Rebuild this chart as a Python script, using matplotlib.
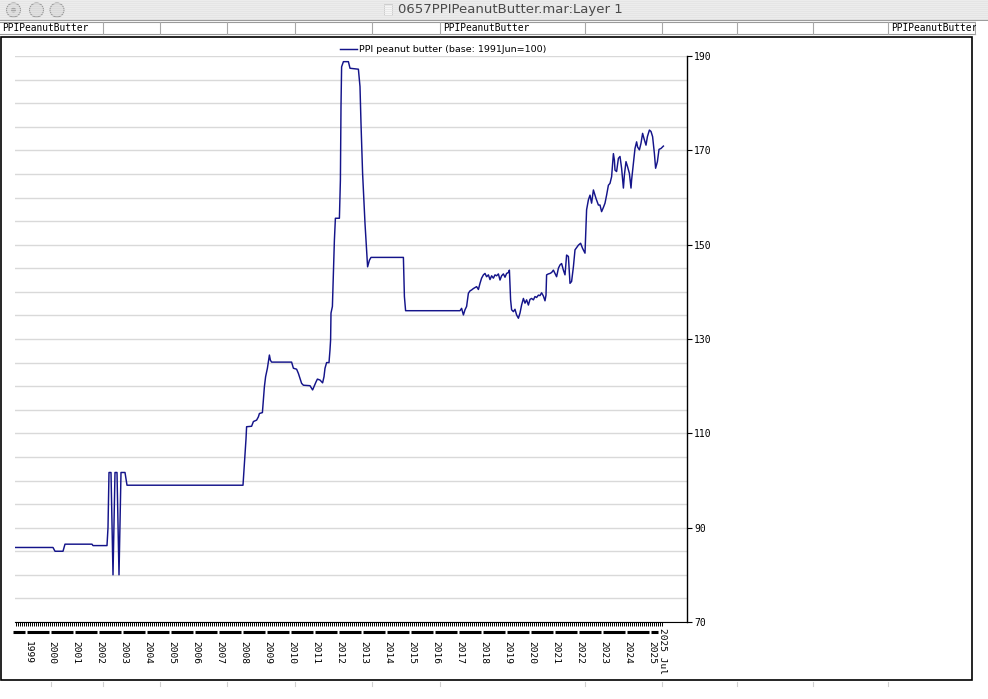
import matplotlib
matplotlib.use("Agg")
import matplotlib.pyplot as plt
from matplotlib.patches import Rectangle, Ellipse
from matplotlib.lines import Line2D
from matplotlib.transforms import blended_transform_factory

# PPI peanut butter (x = months since Jan 1999)
months = [-5.5, 13.5, 14.5, 18.5, 19.5, 33, 33.5, 40.5, 41, 41.5, 42.5, 43.5, 44.5,
          45.5, 46.5, 47.5, 49.5, 50.5, 108.5, 110, 110.3, 112.8, 113.7, 115.3, 116.2,
          116.7, 118.2, 118.7, 119.2, 119.8, 120.7, 121.2, 121.7, 122.2, 122.8, 132.8,
          133.7, 135.3, 136.2, 137.8, 138.7, 142, 143.3, 145, 145.7, 147, 148.3, 149,
          149.5, 150.3, 151.5, 152, 152.3, 152.5, 153.2, 154.2, 154.7, 156.7, 157.2,
          157.5, 157.8, 158.7, 161.2, 162, 166.2, 167, 167.5, 168.3, 169.5, 170.3,
          170.8, 171.7, 172.5, 188.7, 189.2, 189.8, 217, 217.8, 218.7, 219.5, 220.3,
          221.2, 222, 222.8, 223.7, 225.3, 226.2, 227, 227.8, 228.7, 229.5, 230.3,
          231.2, 232, 232.8, 233.7, 234.5, 235.3, 236.2, 237, 237.8, 238.7, 239.5,
          240.3, 241.2, 241.7, 242.3, 242.8, 243.7, 244.5, 245.3, 246.2, 247, 247.8,
          248.7, 249.5, 250.3, 251.2, 252, 252.8, 253.7, 254.5, 255.3, 256.2, 257,
          257.8, 258.7, 259.5, 260, 260.3, 261.2, 262, 262.8, 263.7, 264.5, 265.3,
          266.2, 267, 267.8, 268.7, 269.5, 270.3, 271.2, 272, 272.8, 273.7, 274.5,
          276.2, 277.3, 278.3, 279.5, 280, 280.3, 281.2, 282, 282.8, 283.7, 285,
          286.2, 287, 287.8, 288.7, 289.5, 290.3, 291.2, 292, 292.8, 293.3, 293.7,
          294.2, 294.5, 295.3, 296.2, 297, 297.8, 298.7, 299.2, 300, 300.8, 301.7,
          302.5, 302.8, 303.7, 304.5, 305.3, 305.8, 306.7, 307.5, 308.3, 309, 310,
          310.7, 311.7, 312.5, 313.3, 314.2, 314.8, 315.7, 316.5, 317.5, 318.7]
ppi = [85.8, 85.8, 85.0, 85.0, 86.5, 86.5, 86.2, 86.2, 90.0, 101.7, 101.7, 80.0, 101.7,
       101.7, 80.0, 101.7, 101.7, 99.0, 99.0, 108.8, 111.4, 111.5, 112.5, 112.8, 113.5,
       114.2, 114.4, 117.1, 119.9, 122.0, 123.8, 125.2, 126.6, 125.5, 125.1, 125.1,
       123.8, 123.6, 122.7, 120.6, 120.2, 120.1, 119.2, 120.9, 121.5, 121.3, 120.7, 122.0,
       123.8, 125.0, 125.0, 127.7, 129.8, 135.5, 136.9, 151.0, 155.6, 155.6, 163.7,
       179.3, 187.7, 188.8, 188.8, 187.4, 187.2, 183.5, 175.7, 165.1, 154.5, 148.9,
       145.3, 146.7, 147.3, 147.3, 139.0, 136.0, 136.0, 136.5, 135.1, 136.2, 136.9,
       139.7, 140.2, 140.4, 140.7, 141.1, 140.5, 141.8, 142.9, 143.6, 143.9, 143.2,
       143.6, 142.6, 143.4, 142.9, 143.6, 143.4, 143.8, 142.5, 143.4, 143.8, 143.1,
       143.9, 144.1, 144.6, 138.3, 136.2, 135.8, 136.3, 135.1, 134.4, 135.5, 137.2,
       138.6, 137.6, 138.3, 137.2, 138.4, 138.6, 138.3, 139.0, 138.8, 139.3, 139.2,
       139.8, 139.1, 138.1, 139.3, 143.6, 143.8, 143.9, 144.1, 144.6, 143.9, 143.2,
       145.0, 145.7, 146.0, 144.6, 143.6, 147.8, 147.5, 141.8, 142.2, 145.3, 148.9,
       149.9, 150.3, 149.2, 148.2, 153.8, 157.4, 159.5, 160.5, 158.8, 161.6, 159.8,
       158.4, 158.4, 157.0, 157.9, 158.8, 160.5, 162.6, 163.0, 164.4, 167.2, 169.3,
       167.9, 165.8, 165.5, 168.3, 168.7, 166.2, 162.0, 164.8, 167.6, 166.5, 165.1,
       162.0, 163.7, 167.2, 170.4, 171.8, 170.7, 170.1, 171.5, 173.6, 172.5, 171.1,
       172.9, 174.3, 174.0, 172.9, 169.3, 166.2, 167.6, 170.2, 170.4, 170.9]

years = list(range(1999, 2026))
last_label = "2025 Jul"
series_label = "PPI peanut butter (base: 1991Jun=100)"
window_title = "0657PPIPeanutButter.mar:Layer 1"
tab_name = "PPIPeanutButter"

W, H = 988, 699
fig = plt.figure(figsize=(W / 100, H / 100), dpi=100)
fig.patch.set_facecolor("white")


def fx(x):
    return x / W


def fy(y):
    return 1 - y / H


def rect(x0, y0, x1, y1, **kw):
    fig.patches.append(Rectangle((fx(x0), fy(y1)), fx(x1 - x0), (y1 - y0) / H,
                                 transform=fig.transFigure, **kw))


def hline(x0, x1, y, **kw):
    fig.lines.append(Line2D([fx(x0), fx(x1)], [fy(y), fy(y)], transform=fig.transFigure, **kw))


def vline(x, y0, y1, **kw):
    fig.lines.append(Line2D([fx(x), fx(x)], [fy(y0), fy(y1)], transform=fig.transFigure, **kw))


def dot(cx, cy, r, **kw):
    fig.patches.append(Ellipse((fx(cx), fy(cy)), 2 * r / W, 2 * r / H,
                               transform=fig.transFigure, **kw))


# window title bar
rect(0, 0, W, 20, facecolor="#ececec", edgecolor="none")
for yy in range(1, 20, 2):
    hline(0, W, yy, color="#e3e3e3", lw=0.5)
hline(0, W, 20, color="#9c9c9c", lw=0.8)
for cx in [13.5, 36.5, 57]:
    dot(cx, 10, 7, facecolor="#dadada", edgecolor="#9a9a9a", lw=0.8)
dot(13.5, 10, 2.5, facecolor="#a5a5a5", edgecolor="none")
rect(384, 4, 392, 15, facecolor="#f6f6f6", edgecolor="#c8c8c8", lw=0.6)
fig.text(fx(398), fy(10), window_title, ha="left", va="center", fontsize=9.5,
         color="#4a4a4a", family="DejaVu Sans")

# header row with cells
rect(0, 21, 975, 34, facecolor="white", edgecolor="none")
hline(0, 975, 21.5, color="#9a9a9a", lw=0.8)
hline(0, 975, 34, color="#9a9a9a", lw=0.8)
for cx in [103, 160, 227, 295, 372, 440, 585, 662, 737, 813, 888, 975]:
    vline(cx, 21.5, 34, color="#a8a8a8", lw=0.8)
for tx in [2, 443, 891]:
    fig.text(fx(tx), fy(28), tab_name, ha="left", va="center", fontsize=6.9,
             family="DejaVu Sans Mono", color="black")
rect(975.5, 21, W, 34, facecolor="white", edgecolor="none", zorder=5)

# chart frame
rect(1, 37, 972, 679.5, facecolor="none", edgecolor="black", lw=1.2)
for cx in [51, 103, 160, 227, 295, 372, 440, 585, 662, 737, 813, 888]:
    vline(cx, 682, 686, color="#d0d0d0", lw=0.8)

# plot area
ax = fig.add_axes([fx(15), fy(622), fx(687 - 15), (622 - 56) / H])
ax.plot(months, ppi, color="#14148a", lw=1.05, label=series_label)
ax.set_xlim(-5.5, 330.5)
ax.set_ylim(70, 190)

for s in ["top", "left"]:
    ax.spines[s].set_visible(False)
ax.spines["right"].set_linewidth(1.0)
ax.spines["bottom"].set_linewidth(0.8)

ax.yaxis.tick_right()
ax.set_yticks(range(70, 191, 20))
ax.set_yticks(range(70, 191, 5), minor=True)
ax.tick_params(axis="y", which="major", direction="out", length=3.5, width=0.8,
               pad=1.5, labelsize=7)
ax.tick_params(axis="y", which="minor", length=0)
for lab in ax.get_yticklabels():
    lab.set_family("DejaVu Sans Mono")
ax.grid(True, axis="y", which="both", color="#d9d9d9", lw=1.0)
ax.set_axisbelow(True)

ax.set_xticks([])
ax.set_xticks(range(-5, 319), minor=True)
ax.tick_params(axis="x", which="minor", direction="out", length=3.2, width=0.7,
               color="black")

# year bar and labels
blend = blended_transform_factory(ax.transData, ax.transAxes)
for k in range(-1, len(years)):
    x0 = max(12 * k + 0.7, -6.5)
    x1 = min(12 * k + 11.3, 316)
    ax.plot([x0, x1], [-0.0177, -0.0177], color="black", lw=2.2,
            solid_capstyle="butt", transform=blend, clip_on=False)
for yr in years:
    ax.text(12 * (yr - 1999) + 1, -0.034, str(yr), rotation=270, ha="center", va="top",
            transform=blend, fontsize=6.8, family="DejaVu Sans Mono")
ax.text(318, -0.011, last_label, rotation=270, ha="center", va="top",
        transform=blend, fontsize=6.8, family="DejaVu Sans Mono")

fig.legend(loc="center left", bbox_to_anchor=(fx(340), fy(50)), frameon=False,
           borderpad=0, borderaxespad=0, handlelength=1.75, handletextpad=0.3,
           fontsize=6.8)

fig.savefig("out.png", dpi=100)
